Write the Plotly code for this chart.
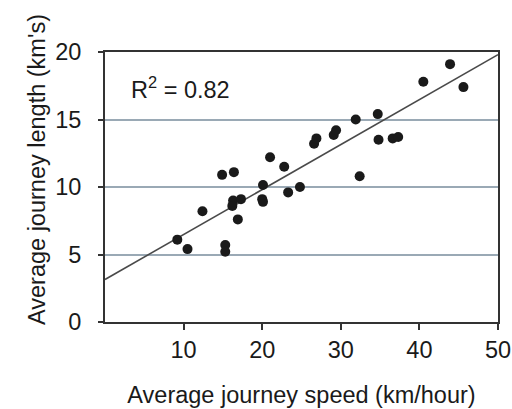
import plotly.graph_objects as go

speed = [9.2, 10.5, 12.4, 14.9, 15.3, 15.3, 16.4, 16.3, 17.3, 16.2, 16.9,
         20.1, 20.0, 20.1, 21.0, 22.8, 23.3, 24.8, 26.6, 26.9, 29.1, 29.4,
         31.9, 32.4, 34.7, 34.8, 36.6, 37.3, 40.5, 43.9, 45.6]
length = [6.1, 5.4, 8.2, 10.9, 5.7, 5.2, 11.1, 9.0, 9.1, 8.6, 7.6,
          10.15, 9.1, 8.9, 12.2, 11.5, 9.6, 10.0, 13.2, 13.6, 13.85, 14.2,
          15.0, 10.8, 15.4, 13.5, 13.6, 13.7, 17.8, 19.1, 17.4]

trend_x = [0, 50]
trend_y = [3.15, 19.8]

x_ticks = [10, 20, 30, 40, 50]
y_ticks = [0, 5, 10, 15, 20]

font = "Liberation Sans, Arial, sans-serif"
fs = 23.5

fig = go.Figure()
fig.add_trace(go.Scatter(x=trend_x, y=trend_y, mode="lines",
                         line=dict(color="#4a4a4a", width=1.6),
                         hoverinfo="skip", showlegend=False))
fig.add_trace(go.Scatter(x=speed, y=length, mode="markers",
                         marker=dict(color="#1a1a1a", size=10, line=dict(width=0)),
                         showlegend=False))

fig.add_annotation(x=0.062, y=0.867, xref="paper", yref="paper",
                   text="R<sup>2</sup> = 0.82", showarrow=False,
                   xanchor="left", yanchor="middle",
                   font=dict(family=font, size=fs, color="#1a1a1a"))

# y-axis title (placed slightly above centre, as in the original)
fig.add_annotation(x=-0.173, y=0.563, xref="paper", yref="paper",
                   text="Average journey length (km's)", showarrow=False,
                   textangle=-90, xanchor="center", yanchor="middle",
                   font=dict(family=font, size=fs, color="#1a1a1a"))

fig.update_xaxes(range=[0, 50], tickvals=x_ticks, ticks="outside", ticklen=6,
                 tickcolor="#333", tickwidth=1.5, showline=True, linecolor="#333",
                 linewidth=2, mirror=True, showgrid=False, zeroline=False,
                 ticklabelstandoff=0, automargin=False,
                 tickfont=dict(family=font, size=fs, color="#1a1a1a"),
                 title=dict(text="Average journey speed (km/hour)", standoff=24,
                            font=dict(family=font, size=fs, color="#1a1a1a")))
fig.update_yaxes(range=[0, 20], tickvals=y_ticks, ticks="outside", ticklen=5,
                 tickcolor="#333", tickwidth=1.5, showline=True, linecolor="#333",
                 linewidth=2, mirror=True, showgrid=True, gridcolor="#9aa9b5",
                 gridwidth=1.5, zeroline=False, ticklabelstandoff=12, automargin=False,
                 tickfont=dict(family=font, size=fs, color="#1a1a1a"))

fig.update_layout(width=512, height=409, margin=dict(l=105, r=14, t=52, b=87),
                  plot_bgcolor="white", paper_bgcolor="white")

fig.write_html("out.html", config={"displayModeBar": False},
               post_script="document.documentElement.style.margin='0';"
                           "document.documentElement.style.overflow='hidden';"
                           "document.body.style.margin='0';"
                           "document.body.style.height='409px';"
                           "document.body.style.overflow='hidden';")
